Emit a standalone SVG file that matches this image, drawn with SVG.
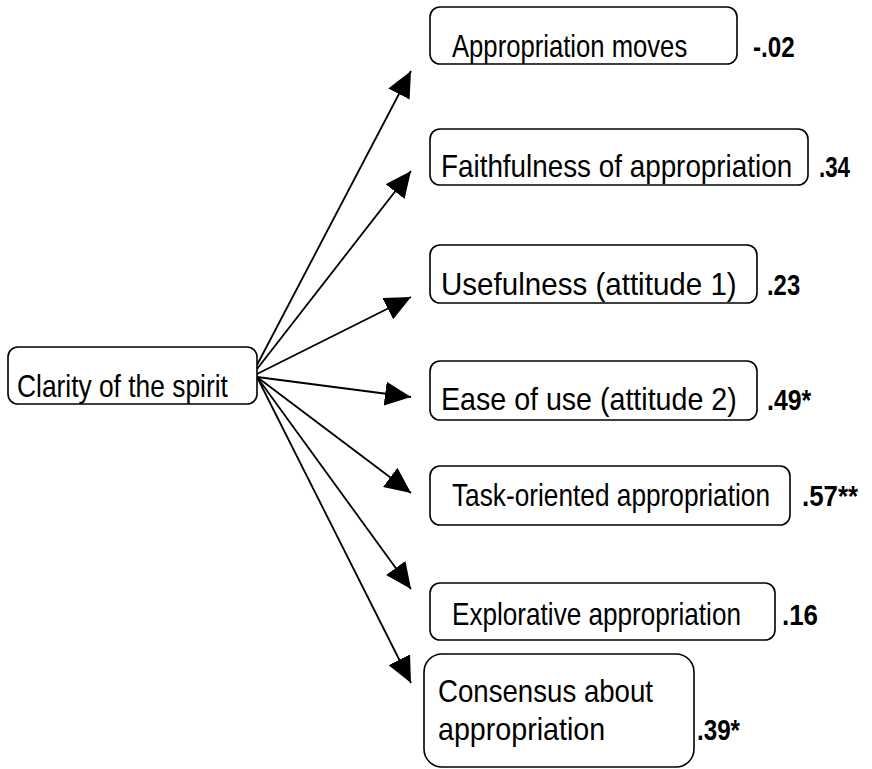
<svg xmlns="http://www.w3.org/2000/svg" width="872" height="769" viewBox="0 0 872 769">
  <style>
    .box { fill: #ffffff; stroke: #000000; stroke-width: 1.6; }
    .lbl { font-family: "Liberation Sans", Arial, sans-serif; font-size: 31px; fill: #000000; }
    .val { font-family: "Liberation Sans", Arial, sans-serif; font-size: 29px; font-weight: bold; fill: #000000; }
    .edge { stroke: #000000; stroke-width: 1.8; fill: none; marker-end: url(#arrow); }
  </style>
  <defs>
    <marker id="arrow" markerUnits="userSpaceOnUse" markerWidth="28" markerHeight="24" refX="26" refY="12" orient="auto">
      <path d="M0,0 L26,12 L0,24 Z" fill="#000000"/>
    </marker>
  </defs>
  <rect width="872" height="769" fill="#ffffff"/>

  <!-- labels are set in a condensed face: regular sans squeezed horizontally -->
  <g id="connectors">
    <line class="edge" x1="257" y1="365" x2="411" y2="71"/>
    <line class="edge" x1="257" y1="369" x2="411" y2="171"/>
    <line class="edge" x1="257" y1="374" x2="411" y2="297"/>
    <line class="edge" x1="257" y1="377" x2="411" y2="397"/>
    <line class="edge" x1="257" y1="377" x2="411" y2="493"/>
    <line class="edge" x1="257" y1="377" x2="411" y2="589"/>
    <line class="edge" x1="257" y1="377" x2="411" y2="683"/>
  </g>

  <g id="clarity">
    <rect class="box" x="8" y="347" width="249" height="57" rx="10"/>
    <text class="lbl" transform="translate(17,397) scale(0.84,1)" textLength="251" lengthAdjust="spacingAndGlyphs">Clarity of the spirit</text>
  </g>

  <g id="appropriation-moves">
    <rect class="box" x="430" y="7" width="307" height="57" rx="10"/>
    <text class="lbl" transform="translate(452,57) scale(0.84,1)" textLength="280" lengthAdjust="spacingAndGlyphs">Appropriation moves</text>
    <text class="val" transform="translate(753,57) scale(0.85,1)" textLength="49" lengthAdjust="spacingAndGlyphs">-.02</text>
  </g>

  <g id="faithfulness">
    <rect class="box" x="430" y="129" width="378" height="56" rx="10"/>
    <text class="lbl" transform="translate(441,177) scale(0.84,1)" textLength="418" lengthAdjust="spacingAndGlyphs">Faithfulness of appropriation</text>
    <text class="val" transform="translate(819,177) scale(0.85,1)" textLength="36.5" lengthAdjust="spacingAndGlyphs">.34</text>
  </g>

  <g id="usefulness">
    <rect class="box" x="430" y="245" width="327" height="58" rx="10"/>
    <text class="lbl" transform="translate(441,295) scale(0.84,1)" textLength="352" lengthAdjust="spacingAndGlyphs">Usefulness (attitude 1)</text>
    <text class="val" transform="translate(767,295) scale(0.85,1)" textLength="39" lengthAdjust="spacingAndGlyphs">.23</text>
  </g>

  <g id="ease-of-use">
    <rect class="box" x="430" y="361" width="327" height="59" rx="10"/>
    <text class="lbl" transform="translate(441,410) scale(0.84,1)" textLength="352" lengthAdjust="spacingAndGlyphs">Ease of use (attitude 2)</text>
    <text class="val" transform="translate(767,410) scale(0.85,1)" textLength="52" lengthAdjust="spacingAndGlyphs">.49*</text>
  </g>

  <g id="task-oriented">
    <rect class="box" x="430" y="466" width="360" height="59" rx="10"/>
    <text class="lbl" transform="translate(452,506) scale(0.84,1)" textLength="378.6" lengthAdjust="spacingAndGlyphs">Task-oriented appropriation</text>
    <text class="val" transform="translate(802,506) scale(0.85,1)" textLength="66" lengthAdjust="spacingAndGlyphs">.57**</text>
  </g>

  <g id="explorative">
    <rect class="box" x="430" y="583" width="345" height="57" rx="10"/>
    <text class="lbl" transform="translate(452,625) scale(0.84,1)" textLength="344" lengthAdjust="spacingAndGlyphs">Explorative appropriation</text>
    <text class="val" transform="translate(782,625) scale(0.85,1)" textLength="42.4" lengthAdjust="spacingAndGlyphs">.16</text>
  </g>

  <g id="consensus">
    <rect class="box" x="424" y="654" width="270" height="113" rx="18"/>
    <text class="lbl" transform="translate(438,702) scale(0.84,1)" textLength="256" lengthAdjust="spacingAndGlyphs">Consensus about</text>
    <text class="lbl" transform="translate(438,740) scale(0.84,1)" textLength="199" lengthAdjust="spacingAndGlyphs">appropriation</text>
    <text class="val" transform="translate(697,740) scale(0.85,1)" textLength="50.6" lengthAdjust="spacingAndGlyphs">.39*</text>
  </g>
</svg>
